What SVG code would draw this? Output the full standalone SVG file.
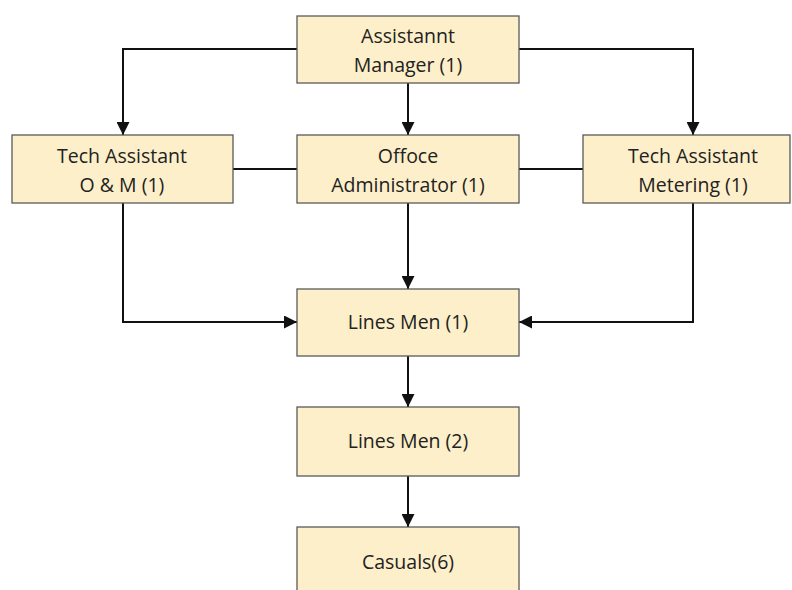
<svg xmlns="http://www.w3.org/2000/svg" width="792" height="590" viewBox="0 0 792 590">
  <style>
    .box { fill: #fdefc9; stroke: #5a5a5a; stroke-width: 1.3; }
    .lbl { font-family: "Open Sans", "Liberation Sans", sans-serif; font-size: 19.5px; fill: #222; text-anchor: middle; }
    .wire { fill: none; stroke: #111; stroke-width: 2; }
  </style>
  <defs>
    <marker id="arrow" viewBox="0 0 10 10" refX="10" refY="5" markerWidth="6.5" markerHeight="6.5" markerUnits="strokeWidth" orient="auto">
      <path d="M0,0 L10,5 L0,10 Z" fill="#111"/>
    </marker>
  </defs>

  <rect width="792" height="590" fill="#ffffff"/>

  <g id="connectors">
    <path class="wire" d="M297,49 H123 V135" marker-end="url(#arrow)"/>
    <path class="wire" d="M519,49 H693 V135" marker-end="url(#arrow)"/>
    <path class="wire" d="M408,83 V135" marker-end="url(#arrow)"/>
    <path class="wire" d="M233,169 H297"/>
    <path class="wire" d="M519,169 H583"/>
    <path class="wire" d="M408,203 V289" marker-end="url(#arrow)"/>
    <path class="wire" d="M123,203 V322 H297" marker-end="url(#arrow)"/>
    <path class="wire" d="M693,203 V322 H519" marker-end="url(#arrow)"/>
    <path class="wire" d="M408,356 V407" marker-end="url(#arrow)"/>
    <path class="wire" d="M408,476 V527" marker-end="url(#arrow)"/>
  </g>

  <g id="assistant-manager">
    <rect class="box" x="297" y="16" width="222" height="67"/>
    <text class="lbl" x="408" y="43">Assistannt</text>
    <text class="lbl" x="408" y="72">Manager (1)</text>
  </g>

  <g id="tech-assistant-om">
    <rect class="box" x="12" y="135" width="221" height="68"/>
    <text class="lbl" x="122" y="163">Tech Assistant</text>
    <text class="lbl" x="122" y="192">O &amp; M (1)</text>
  </g>

  <g id="office-administrator">
    <rect class="box" x="297" y="135" width="222" height="68"/>
    <text class="lbl" x="408" y="163">Offoce</text>
    <text class="lbl" x="408" y="192">Administrator (1)</text>
  </g>

  <g id="tech-assistant-metering">
    <rect class="box" x="583" y="135" width="207" height="68"/>
    <text class="lbl" x="693" y="163">Tech Assistant</text>
    <text class="lbl" x="693" y="192">Metering (1)</text>
  </g>

  <g id="lines-men-1">
    <rect class="box" x="297" y="289" width="222" height="67"/>
    <text class="lbl" x="408" y="329">Lines Men (1)</text>
  </g>

  <g id="lines-men-2">
    <rect class="box" x="297" y="407" width="222" height="69"/>
    <text class="lbl" x="408" y="448">Lines Men (2)</text>
  </g>

  <g id="casuals">
    <rect class="box" x="297" y="527" width="222" height="70"/>
    <text class="lbl" x="408" y="569">Casuals(6)</text>
  </g>
</svg>
